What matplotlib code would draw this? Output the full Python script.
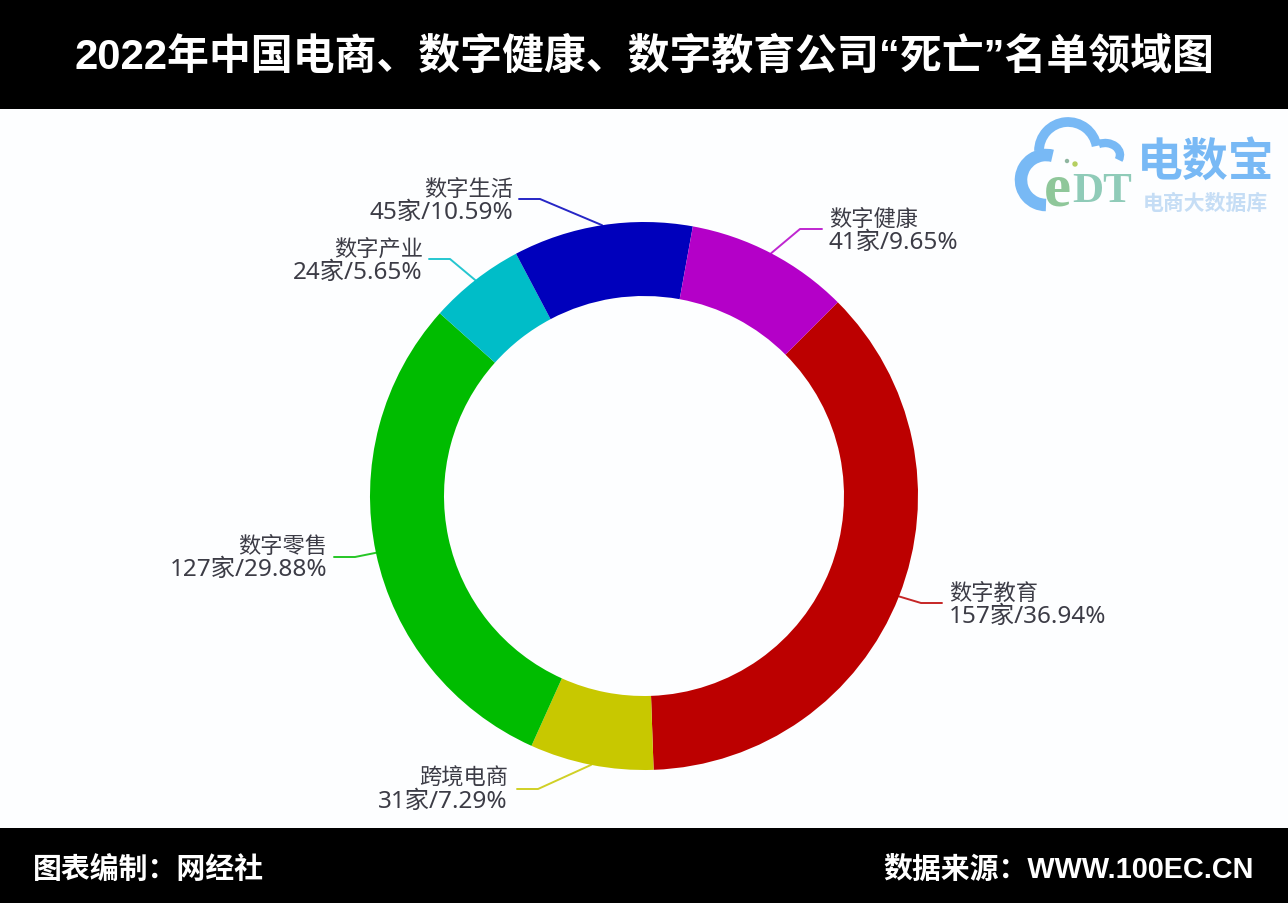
import numpy as np
import matplotlib
matplotlib.use('Agg')
import matplotlib.pyplot as plt
from matplotlib.patches import Rectangle, Arc, Circle

FONTS = ['Liberation Sans', 'Noto Sans CJK SC']
LABEL_FONTS = ['Noto Sans', 'Noto Sans CJK SC']
plt.rcParams['font.family'] = FONTS

categories = ['数字教育', '跨境电商', '数字零售', '数字产业', '数字生活', '数字健康']
counts = [157, 31, 127, 24, 45, 41]
shares = ['36.94%', '7.29%', '29.88%', '5.65%', '10.59%', '9.65%']
colors = ['#BC0000', '#C8C800', '#00BC00', '#00BDC8', '#0000BC', '#B400C8']
title = '2022年中国电商、数字健康、数字教育公司“死亡”名单领域图'
footer_left = '图表编制：网经社'
footer_right = '数据来源：WWW.100EC.CN'

W, H = 1288, 904
CX, CY, R, RIN = 644, 497, 274, 200
START = 45

fig = plt.figure(figsize=(W / 100, H / 100), dpi=100, facecolor='#FDFEFF')

# overlay in pixel coordinates
ov = fig.add_axes([0, 0, 1, 1])
ov.set_xlim(0, W)
ov.set_ylim(H, 0)
ov.axis('off')
ov.add_patch(Rectangle((0, 0), W, 109.5, color='black', lw=0))
ov.add_patch(Rectangle((0, 828.5), W, H - 828.5, color='black', lw=0))

# donut
size = R * 2.5
pa = fig.add_axes([(CX - size / 2) / W, 1 - (CY + size / 2) / H, size / W, size / H])
pa.pie(counts, colors=colors, startangle=START, counterclock=False, radius=1,
       wedgeprops=dict(width=(R - RIN) / R, edgecolor='none'))
pa.patch.set_alpha(0)

# text
ov.text(W / 2 + 0, 57, title, color='white', fontsize=30.2, fontweight='bold',
        ha='center', va='center')
ov.text(33, 870, footer_left, color='white', fontsize=20.8, fontweight='bold', va='center')
ov.text(1254, 870, footer_right, color='white', fontsize=20.8, fontweight='bold',
        va='center', ha='right')

# labels: (x, first-line y, ha), leader elbow and end
layout = {
    '数字教育': (949, 594, 'left', (921, 604), (942, 604)),
    '跨境电商': (508, 779, 'right', (538, 790), (517, 790)),
    '数字零售': (327, 547, 'right', (355, 558), (334, 558)),
    '数字产业': (423, 250, 'right', (450, 260), (429, 260)),
    '数字生活': (513, 190, 'right', (540, 200), (519, 200)),
    '数字健康': (829, 220, 'left', (800, 230), (822, 230)),
}
total = sum(counts)
a = START
for cat, n, s, c in zip(categories, counts, shares, colors):
    sweep = 360 * n / total
    mid = np.deg2rad(a + sweep / 2)
    a += sweep
    x0, y0 = CX + R * np.sin(mid), CY - R * np.cos(mid)
    x, y, ha, elbow, end = layout[cat]
    ov.plot([x0, elbow[0], end[0]], [y0, elbow[1], end[1]], color=c, lw=1.4, alpha=0.85,
            solid_capstyle='round')
    ov.text(x, y, cat, fontsize=16, color='#3C3C46', ha=ha, va='center', family=LABEL_FONTS)
    ov.text(x, y + 23, f'{n}家/{s}', fontsize=17.5, color='#3C3C46', ha=ha, va='center',
            family=LABEL_FONTS)

# logo
blue = '#78B9F5'
ov.add_patch(Arc((1046, 181), 50, 50, theta1=90, theta2=285, color=blue, lw=9))
ov.add_patch(Arc((1068, 152), 58, 58, theta1=180, theta2=350, color=blue, lw=7))
ov.add_patch(Arc((1105, 156), 30, 24, theta1=240, theta2=20, color=blue, lw=6))
ov.text(1044, 190, 'e', family='Liberation Serif', fontsize=44, fontweight='bold',
        color='#8FC79A', ha='left', va='center')
ov.text(1072, 192, 'DT', family='Liberation Serif', fontsize=31, fontweight='bold',
        color='#8FCBB8', ha='left', va='center')
ov.add_patch(Circle((1067, 162), 1.5, color='#8FB6A0'))
ov.add_patch(Circle((1075, 165), 2, color='#B5CF60'))
ov.text(1206, 163, '电数宝', family=['Noto Sans CJK SC'], fontsize=33, fontweight='bold',
        color=blue, ha='center', va='center')
ov.text(1205, 203, '电商大数据库', family=['Noto Sans CJK SC'], fontsize=15, fontweight='bold',
        color='#C5DDF5', ha='center', va='center')

fig.savefig('out.png', dpi=100, facecolor=fig.get_facecolor())
